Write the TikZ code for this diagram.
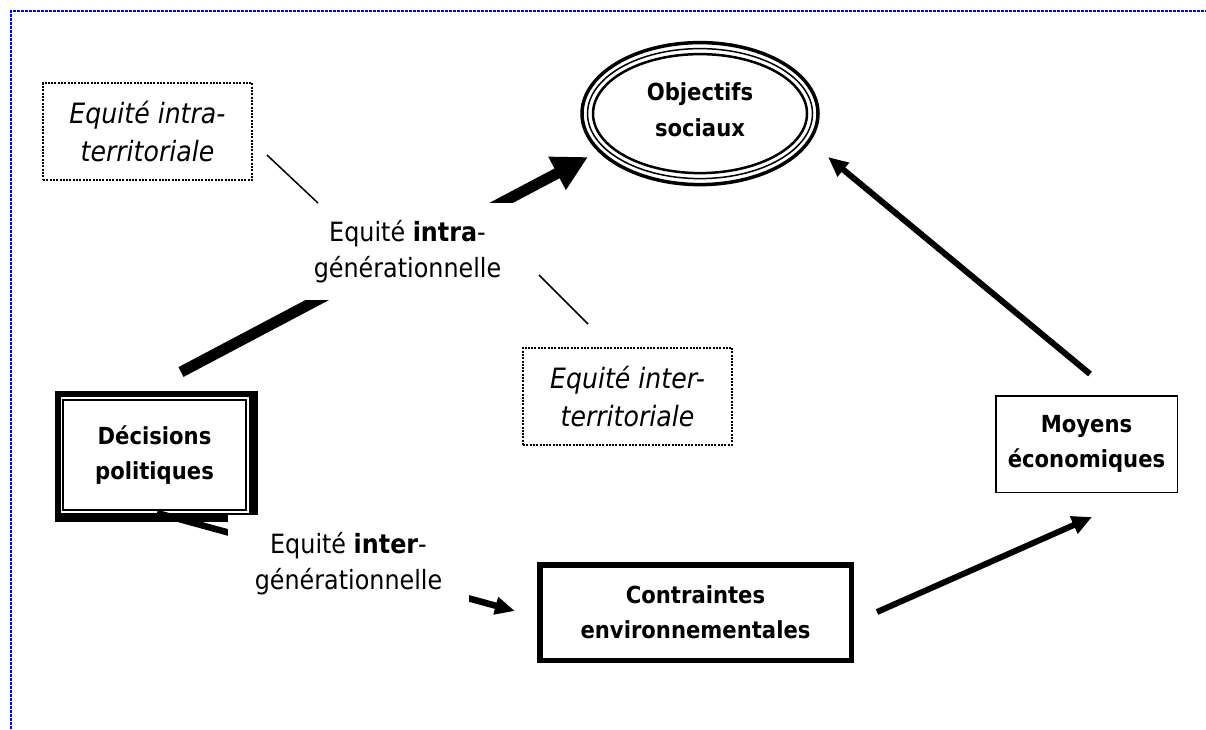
\documentclass[tikz,border=0pt]{standalone}
\usepackage{fontspec}
\setmainfont{DejaVu Sans}[FakeStretch=0.9,ItalicFont={DejaVu Sans Oblique},BoldFont={DejaVu Sans Bold},BoldItalicFont={DejaVu Sans Bold Oblique}]
\usetikzlibrary{arrows.meta,shapes.geometric}
\pgfdeclarelayer{background}
\pgfsetlayers{background,main}
\begin{document}
\begin{tikzpicture}[x=1pt,y=-1pt,
  boldbox/.style={font=\fontsize{23.5}{35}\selectfont\bfseries, align=center, inner sep=0pt, outer sep=0pt, fill=white, draw},
  lbl/.style={font=\fontsize{26.5}{36}\selectfont, align=center, fill=white, inner sep=0pt, outer sep=0pt, minimum width=241pt, minimum height=97pt},
  dotbox/.style={draw, line width=2pt, dash pattern=on 2pt off 1.3pt, font=\fontsize{28}{38}\selectfont\itshape, align=center, inner sep=0pt, outer sep=0pt, minimum width=209pt, minimum height=97pt},
  thinln/.style={line width=1.5pt},
  arr/.style={line width=6pt, -{Triangle[length=20pt,width=18pt]}}
]
\useasboundingbox (0,0) rectangle (1206,729);
% frame
\coordinate (fbl) at (11,729);
\coordinate (ftl) at (11,11);
\coordinate (ftr) at (1206,11);
\draw[blue, line width=2.8pt, dash pattern=on 2.7pt off 1.3pt] (fbl) -- (ftl) -- (ftr);

% Objectifs sociaux
\node[ellipse, draw, line width=2.5pt, fill=white, minimum width=214pt, minimum height=119pt, inner sep=0pt] (obj) at (700,113.6) {};
\draw[line width=1.5pt] (obj.center) ellipse [x radius=112.5pt, y radius=65pt];
\draw[line width=3.5pt] (obj.center) ellipse [x radius=118pt, y radius=71pt];
\node[font=\fontsize{23.5}{36}\selectfont\bfseries, align=center, inner sep=0pt] (objt) at ([yshift=4pt]obj.center) {Objectifs\\sociaux};

% Decisions politiques
\node[boldbox, line width=1.5pt, minimum width=183pt, minimum height=110pt] (dec) at (154.5,455) {Décisions\\politiques};
\begin{pgfonlayer}{background}
  \fill[black] ([shift={(-8.5,-9)}]dec.north west) rectangle ([shift={(12,12)}]dec.south east);
  \fill[white] ([shift={(-2.5,-3)}]dec.north west) rectangle ([shift={(2.5,2.5)}]dec.south east);
\end{pgfonlayer}

% Contraintes environnementales
\node[boldbox, line width=5.5pt, minimum width=311.5pt, minimum height=95.5pt] (con) at (695.5,612.5) {Contraintes\\environnementales};

% Moyens economiques
\node[boldbox, line width=1.5pt, minimum width=181.5pt, minimum height=96.5pt] (moy) at (1086.5,444) {Moyens\\économiques};

% arrows
\coordinate (a1s) at (181,372);
\coordinate (a1e) at (588,157);
\draw[line width=11pt, -{Triangle[length=35pt,width=35pt]}] (a1s) -- (a1e);

\coordinate (a2s) at (157,513);
\coordinate (a2e) at (515,611);
\draw[arr, line width=6.5pt, -{Triangle[length=20pt,width=17pt]}] (a2s) -- (a2e);

\coordinate (a3s) at (877,612);
\coordinate (a3e) at (1092,517);
\draw[arr] (a3s) -- (a3e);

\coordinate (a4s) at (1090,374);
\coordinate (a4e) at (828,157);
\draw[arr, -{Triangle[length=20pt,width=17pt]}] (a4s) -- (a4e);

% labels
\node[lbl] (intra) at (407.5,251.5) {Equité \textbf{intra}-\\générationnelle};
\node[lbl] (inter) at (348.5,563.5) {Equité \textbf{inter}-\\générationnelle};

% dotted boxes
\node[dotbox] (tintra) at (147.5,131.5) {Equité intra-\\territoriale};
\node[dotbox] (tinter) at (627.5,396) {Equité inter-\\territoriale};

% thin connectors
\coordinate (t1s) at (267,155);
\coordinate (t1e) at (318,203);
\draw[thinln] (t1s) -- (t1e);
\coordinate (t2s) at (539,275);
\coordinate (t2e) at (588,324);
\draw[thinln] (t2s) -- (t2e);
\end{tikzpicture}
\end{document}
